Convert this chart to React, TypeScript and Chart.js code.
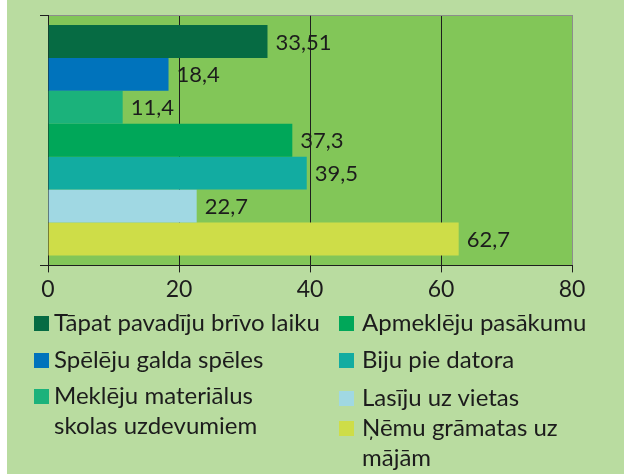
import React, { useEffect, useRef } from "react";
import { Chart, registerables } from "chart.js";

Chart.register(...registerables);

// ---- data ----
const categories = [""];
const seriesLabels = [
  "Tāpat pavadīju brīvo laiku",
  "Spēlēju galda spēles",
  "Meklēju materiālus skolas uzdevumiem",
  "Apmeklēju pasākumu",
  "Biju pie datora",
  "Lasīju uz vietas",
  "Ņēmu grāmatas uz mājām",
];
const seriesValues = [33.51, 18.4, 11.4, 37.3, 39.5, 22.7, 62.7];
const seriesColors = [
  "#066b43",
  "#0073bc",
  "#1bb27b",
  "#00a759",
  "#12aca1",
  "#a0d8e3",
  "#cedd48",
];
const xMin = 0;
const xMax = 80;
const xStep = 20;

// ---- layout / style ----
const PAGE_BG = "#b9dca0";
const PLOT_BG = "#82c658";
const TEXT = "#1c1c1c";
const FONT = "Lato, 'Noto Sans', sans-serif";

// legend item placement (page px): column of each item and text baseline
const legendCols = [0, 0, 0, 1, 1, 1, 1];
const legendBaselines = [331, 368, 404, 331, 368, 406, 436];
const colSquareLeft = [34, 339];
const colTextLeft = [54, 362];
const colTextWidth = [267, 250];

const plotBgPlugin = {
  id: "plotBg",
  beforeDraw(chart: any) {
    const { ctx, chartArea } = chart;
    ctx.save();
    ctx.fillStyle = PLOT_BG;
    ctx.fillRect(
      chartArea.left,
      chartArea.top,
      chartArea.right - chartArea.left,
      chartArea.bottom - chartArea.top
    );
    ctx.restore();
  },
};

const valueLabelPlugin = {
  id: "valueLabels",
  afterDatasetsDraw(chart: any) {
    const { ctx } = chart;
    ctx.save();
    ctx.font = `22px ${FONT}`;
    ctx.fillStyle = TEXT;
    ctx.textBaseline = "middle";
    ctx.textAlign = "left";
    chart.data.datasets.forEach((ds: any, i: number) => {
      const meta = chart.getDatasetMeta(i);
      meta.data.forEach((el: any, j: number) => {
        const txt = String(ds.data[j]).replace(".", ",");
        ctx.fillText(txt, el.x + 8, el.y + 1);
      });
    });
    ctx.restore();
  },
};

function ChartCanvas() {
  const ref = useRef<HTMLCanvasElement | null>(null);
  useEffect(() => {
    if (!ref.current) return;
    const chart = new Chart(ref.current, {
      type: "bar",
      data: {
        labels: categories,
        datasets: seriesLabels.map((label, i) => ({
          label,
          data: [seriesValues[i]],
          backgroundColor: seriesColors[i],
          borderWidth: 0,
          categoryPercentage: 0.92,
          barPercentage: 1,
        })),
      },
      options: {
        indexAxis: "y",
        responsive: false,
        animation: false,
        events: [],
        layout: { padding: { left: 40, right: 52, top: 15, bottom: 4 } },
        plugins: {
          legend: { display: false },
          tooltip: { enabled: false },
          title: { display: false },
        },
        scales: {
          x: {
            type: "linear",
            position: "bottom",
            min: xMin,
            max: xMax,
            ticks: {
              stepSize: xStep,
              color: TEXT,
              font: { family: FONT, size: 23 },
              padding: 3,
            },
            grid: {
              color: (c: any) =>
                c.tick && c.tick.value === xMax ? "#8c8c8c" : "#1e1e1e",
              tickColor: "#1e1e1e",
              lineWidth: 1,
              tickLength: 7,
            },
            border: { display: true, color: "#1e1e1e", width: 1 },
          },
          y: {
            type: "category",
            offset: true,
            ticks: { display: false },
            grid: {
              offset: true,
              color: (c: any) => (c.index === 0 ? "#8c8c8c" : "#1e1e1e"),
              tickColor: "#1e1e1e",
              lineWidth: 1,
              tickLength: 8,
            },
            border: { display: true, color: "#1e1e1e", width: 1 },
          },
        },
      },
      plugins: [plotBgPlugin, valueLabelPlugin],
    } as any);
    return () => chart.destroy();
  }, []);
  return (
    <canvas
      ref={ref}
      width={624}
      height={310}
      style={{ position: "absolute", left: 0, top: 0, width: 624, height: 310, display: "block" }}
    />
  );
}

export default function App() {
  return (
    <div
      style={{
        position: "fixed",
        left: 0,
        top: 0,
        width: 624,
        height: 474,
        background: "#ffffff",
        overflow: "hidden",
        fontFamily: FONT,
      }}
    >
      <div
        style={{
          position: "absolute",
          left: 7,
          top: 0,
          width: 617,
          height: 474,
          background: PAGE_BG,
        }}
      />
      <ChartCanvas />
      {seriesLabels.map((label, i) => {
        const col = legendCols[i];
        const base = legendBaselines[i];
        return (
          <React.Fragment key={i}>
            <div
              style={{
                position: "absolute",
                left: colSquareLeft[col],
                top: base - 15,
                width: 15,
                height: 15,
                background: seriesColors[i],
              }}
            />
            <div
              style={{
                position: "absolute",
                left: colTextLeft[col],
                top: base - 24,
                width: colTextWidth[col],
                fontSize: 24,
                lineHeight: "30px",
                color: TEXT,
                fontFamily: FONT,
              }}
            >
              {label}
            </div>
          </React.Fragment>
        );
      })}
    </div>
  );
}
